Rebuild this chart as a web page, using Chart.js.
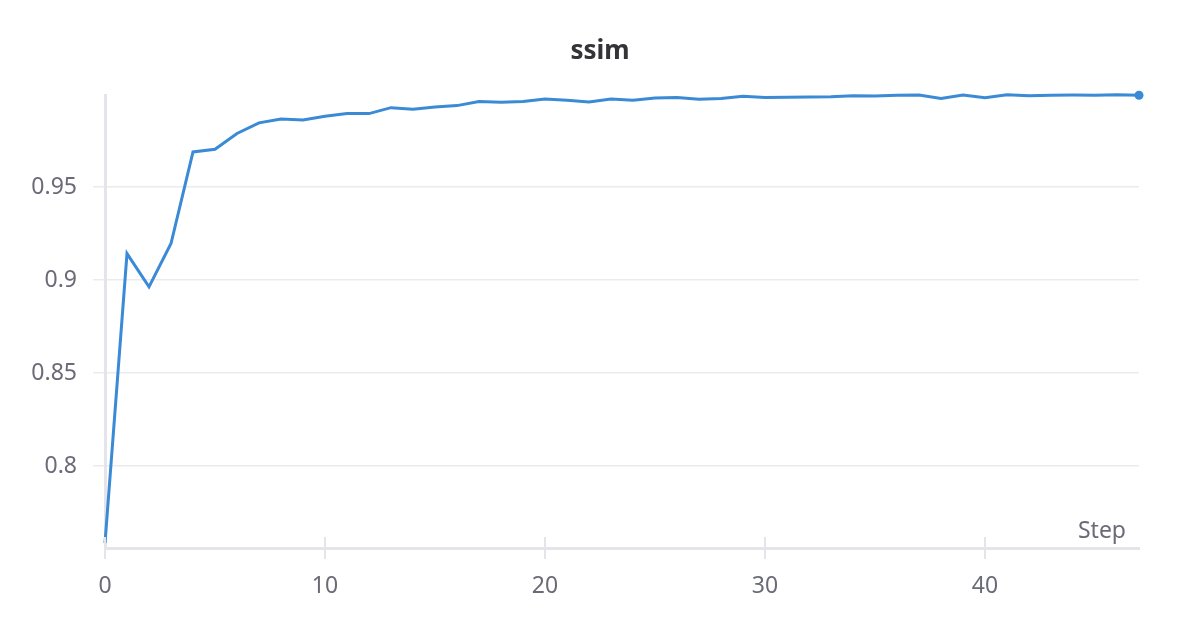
<!DOCTYPE html>
<html>
<head>
<meta charset="utf-8">
<script src="https://cdn.jsdelivr.net/npm/chart.js@4.4.1/dist/chart.umd.min.js"></script>
<style>
  html, body { margin: 0; padding: 0; background: #fff; }
  #wrap { width: 1200px; height: 630px; position: relative; }
</style>
</head>
<body>
<div id="wrap"><canvas id="myChart"></canvas></div>
<script>
const steps = [0,1,2,3,4,5,6,7,8,9,10,11,12,13,14,15,16,17,18,19,20,21,22,23,24,25,26,27,28,29,30,31,32,33,34,35,36,37,38,39,40,41,42,43,44,45,46,47];
const ssim = [0.7585, 0.9143, 0.8964, 0.9197, 0.969, 0.9704, 0.9789, 0.9846, 0.9867, 0.9862,
              0.9882, 0.9896, 0.9896, 0.9928, 0.9919, 0.9932, 0.9939, 0.9961, 0.9957, 0.9961,
              0.9975, 0.9968, 0.9959, 0.9975, 0.9968, 0.9980, 0.9982, 0.9973, 0.9977, 0.9989,
              0.9982, 0.9984, 0.9985, 0.9987, 0.9992, 0.9991, 0.9995, 0.9996, 0.9977, 0.9996,
              0.9982, 0.9998, 0.9992, 0.9995, 0.9996, 0.9995, 0.9998, 0.9995];
const yTicks = [0.8, 0.85, 0.9, 0.95];
const xTicks = [0, 10, 20, 30, 40];

const fontFamily = '"Noto Sans", "Open Sans", sans-serif';
const tickColor = '#6b6b78';

// "Step" label in the lower right corner of the plot, plus tick stubs above the x axis
const stepLabel = {
  id: 'stepLabel',
  afterDraw(chart) {
    const { ctx, chartArea } = chart;
    ctx.save();
    ctx.font = '23px ' + fontFamily;
    ctx.fillStyle = tickColor;
    ctx.textAlign = 'right';
    ctx.textBaseline = 'alphabetic';
    ctx.fillText('Step', chartArea.right - 13, chartArea.bottom - 10);
    const xs = chart.scales.x;
    ctx.strokeStyle = '#e4e4ea';
    ctx.lineWidth = 2;
    xTicks.forEach(v => {
      const px = xs.getPixelForValue(v);
      ctx.beginPath();
      ctx.moveTo(px, chartArea.bottom - 11);
      ctx.lineTo(px, chartArea.bottom);
      ctx.stroke();
    });
    ctx.restore();
  }
};

const ctx = document.getElementById('myChart');

new Chart(ctx, {
  type: 'line',
  data: {
    labels: steps,
    datasets: [{
      label: 'ssim',
      data: steps.map((s, i) => ({ x: s, y: ssim[i] })),
      borderColor: '#3a8ad6',
      backgroundColor: '#3a8ad6',
      borderWidth: 3,
      tension: 0,
      clip: false,
      pointRadius: c => c.dataIndex === ssim.length - 1 ? 4.5 : 0,
      pointBorderWidth: 0,
      pointHoverRadius: 0
    }]
  },
  options: {
    responsive: true,
    maintainAspectRatio: false,
    animation: false,
    layout: { padding: 0 },
    plugins: {
      legend: { display: false },
      tooltip: { enabled: false },
      title: {
        display: true,
        text: 'ssim',
        color: '#333338',
        font: { family: fontFamily, size: 26, weight: 'bold' },
        padding: { top: 36, bottom: 28 }
      }
    },
    scales: {
      x: {
        type: 'linear',
        min: 0,
        max: 47,
        afterBuildTicks: s => { s.ticks = xTicks.map(v => ({ value: v })); },
        afterFit: s => { s.height = 82; },
        grid: {
          drawOnChartArea: false,
          drawTicks: true,
          tickLength: 11,
          color: '#e4e4ea',
          lineWidth: 2
        },
        border: { display: true, color: '#e4e4ea', width: 3 },
        ticks: {
          color: tickColor,
          font: { family: fontFamily, size: 23 },
          padding: 14,
          maxRotation: 0
        }
      },
      y: {
        min: 0.7559,
        max: 0.9995,
        afterBuildTicks: s => { s.ticks = yTicks.map(v => ({ value: v })); },
        afterFit: s => { s.width = 105; },
        grid: {
          color: '#ebebee',
          lineWidth: 1.5,
          tickLength: 12
        },
        border: { display: true, color: '#e4e4ea', width: 3 },
        ticks: {
          color: tickColor,
          font: { family: fontFamily, size: 23 },
          padding: 16,
          callback: v => String(Math.round(v * 100) / 100)
        }
      },
      // empty right-hand axis that only reserves space, so the title stays centred on the page
      yRight: {
        position: 'right',
        display: true,
        afterFit: s => { s.width = 61; },
        grid: { display: false },
        border: { display: false },
        ticks: { display: false }
      }
    }
  },
  plugins: [stepLabel]
});
</script>
</body>
</html>
